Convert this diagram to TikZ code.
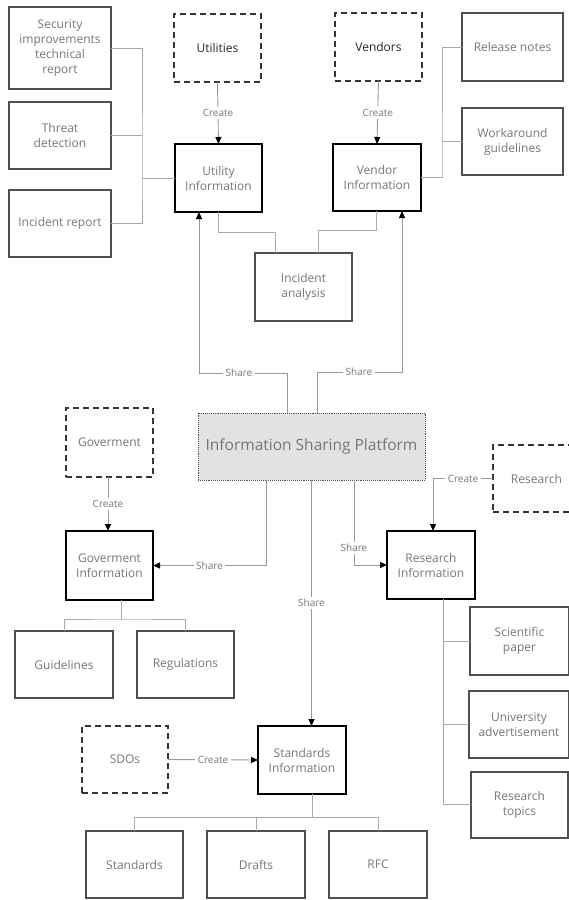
\documentclass[tikz,border=0pt]{standalone}
\usepackage{fontspec}
\setmainfont{Open Sans}
\usetikzlibrary{arrows.meta,calc}
\definecolor{txt}{HTML}{777777}
\definecolor{bord}{HTML}{505050}
\definecolor{conn}{HTML}{AAAAAA}
\definecolor{aconn}{HTML}{999999}
\definecolor{platfill}{HTML}{E2E2E2}
\begin{document}
\begin{tikzpicture}[x=1pt,y=-1pt,
  every node/.style={inner sep=0pt,outer sep=0pt},
  basebox/.style={rectangle,align=center,text=txt,font=\fontsize{12}{15}\selectfont},
  itembox/.style={basebox,draw=bord,line width=1.1pt},
  infobox/.style={basebox,draw=black,line width=2.6pt},
  srcbox/.style={basebox,draw=black!80,line width=1.6pt,dash pattern=on 6pt off 4pt},
  platbox/.style={basebox,draw=bord,fill=platfill,line width=0.9pt,densely dotted,font=\fontsize{15.5}{18}\selectfont},
  link/.style={draw=conn,line width=0.9pt},
  arr/.style={draw=aconn,line width=0.9pt,-{Triangle[length=7pt,width=6pt,color=black]}},
  lbl/.style={fill=white,text=txt,inner sep=2.5pt,font=\fontsize{10}{12}\selectfont},
]
\useasboundingbox (0,0) rectangle (569,900);
\fill[white] (0,0) rectangle (569,900);

% top left items
\node[itembox,minimum width=102,minimum height=82] (sec) at (60,48) {Security\\improvements\\technical\\report};
\node[itembox,minimum width=102,minimum height=67] (threat) at (60,135.5) {Threat\\detection};
\node[itembox,minimum width=102,minimum height=67] (increp) at (60,223.5) {Incident report};

% utilities / vendors
\node[srcbox,minimum width=87,minimum height=68,text=black!85] (utilities) at (217.5,48) {Utilities};
\node[infobox,minimum width=87,minimum height=68] (utilinfo) at (218.5,178) {Utility\\Information};
\node[srcbox,minimum width=87,minimum height=68,text=black!85] (vendors) at (378.5,47) {Vendors};
\node[infobox,minimum width=88,minimum height=67] (vendinfo) at (377,177.5) {Vendor\\Information};
\node[itembox,minimum width=101,minimum height=68] (release) at (512.5,47) {Release notes};
\node[itembox,minimum width=101,minimum height=67] (workaround) at (512.5,141.5) {Workaround\\guidelines};
\node[itembox,minimum width=97,minimum height=68] (incan) at (303.5,287) {Incident\\analysis};

% platform
\node[platbox,minimum width=227,minimum height=67] (plat) at (311.5,446.5) {Information Sharing Platform};

% government
\node[srcbox,minimum width=87,minimum height=69] (gov) at (109.5,442.5) {Goverment};
\node[infobox,minimum width=87,minimum height=69] (govinfo) at (109.5,565.5) {Goverment\\Information};
\node[itembox,minimum width=98,minimum height=67] (guide) at (64,664.5) {Guidelines};
\node[itembox,minimum width=97,minimum height=67] (regul) at (185.5,664.5) {Regulations};

% research
\node[srcbox,minimum width=87,minimum height=67] (research) at (536.5,478.5) {Research};
\node[infobox,minimum width=88,minimum height=68] (resinfo) at (431,565) {Research\\Information};
\node[itembox,minimum width=99,minimum height=68] (sci) at (519.5,641) {Scientific\\paper};
\node[itembox,minimum width=100,minimum height=67] (univ) at (519,724.5) {University\\advertisement};
\node[itembox,minimum width=97,minimum height=66] (topics) at (519.5,805) {Research\\topics};

% standards
\node[srcbox,minimum width=86,minimum height=67] (sdos) at (125,759.5) {SDOs};
\node[infobox,minimum width=88,minimum height=68] (stdinfo) at (302,760) {Standards\\Information};
\node[itembox,minimum width=97,minimum height=67] (standards) at (134.5,864.5) {Standards};
\node[itembox,minimum width=98,minimum height=67] (drafts) at (256,864.5) {Drafts};
\node[itembox,minimum width=98,minimum height=67] (rfc) at (378,864.5) {RFC};

% coordinates for buses
\coordinate (lbus) at (142,178);
\coordinate (vbus) at (442,177);
\coordinate (ubend) at (275,232);
\coordinate (vbend) at (318,230);
\coordinate (shl) at (199,373);
\coordinate (shr) at (402,372);
\coordinate (gbus) at (121,619);
\coordinate (sbus) at (312,817);
\coordinate (rbus) at (443,804);

% left group links
\draw[link] (sec.east) -| (lbus) |- (increp.east);
\draw[link] (threat.east) -- (threat.east -| lbus);
\draw[link] (lbus) -- (utilinfo.west);

% right group links
\draw[link] (vendinfo.east) -| (vbus) |- (release.west);
\draw[link] (workaround.west) -- (workaround.west -| vbus);

% incident analysis
\draw[link] (utilinfo.south) |- (ubend) -- (ubend |- incan.north);
\draw[link] ([xshift=-1pt]vendinfo.south) |- (vbend) -- (vbend |- incan.north);

% create arrows
\draw[arr] (utilities.south) -- node[lbl]{Create} (utilinfo.north);
\draw[arr] (vendors.south) -- node[lbl]{Create} (vendinfo.north);
\draw[arr] ([xshift=-1.5pt]gov.south) -- node[lbl]{Create} ([xshift=-1.5pt]govinfo.north);
\draw[arr] (research.west) -| node[lbl,pos=0.25]{Create} ([xshift=2pt]resinfo.north);
\draw[arr] (sdos.east) -- node[lbl]{Create} (stdinfo.west);

% share arrows
\draw[arr] (plat.north -| 287,0) |- (shl) -- (shl |- utilinfo.south);
\node[lbl] (shlbl) at (239,373) {Share};
\draw[arr] (plat.north -| 317,0) |- (shr) -- (shr |- vendinfo.south);
\node[lbl] (shrlbl) at (359,372) {Share};
\draw[arr] (plat.south -| 266,0) |- node[lbl,pos=0.75]{Share} (govinfo.east);
\draw[arr] (plat.south -| 354,0) |- node[lbl,pos=0.4]{Share} (resinfo.west);
\draw[arr] (plat.south) -- node[lbl,pos=0.5]{Share} (plat.south |- stdinfo.north);

% government items
\draw[link] (govinfo.south -| gbus) -- (gbus);
\draw[link] (guide.north) |- (gbus) -| (regul.north);

% standards items
\draw[link] (stdinfo.south -| sbus) -- (sbus);
\draw[link] (standards.north) |- (sbus) -| (rfc.north);
\draw[link] (drafts.north) -- (drafts.north |- sbus);

% research items
\draw[link] (resinfo.south -| rbus) -- (rbus) -- (topics.west |- rbus);
\draw[link] (sci.west) -- (sci.west -| rbus);
\draw[link] (univ.west) -- (univ.west -| rbus);
\end{tikzpicture}
\end{document}
